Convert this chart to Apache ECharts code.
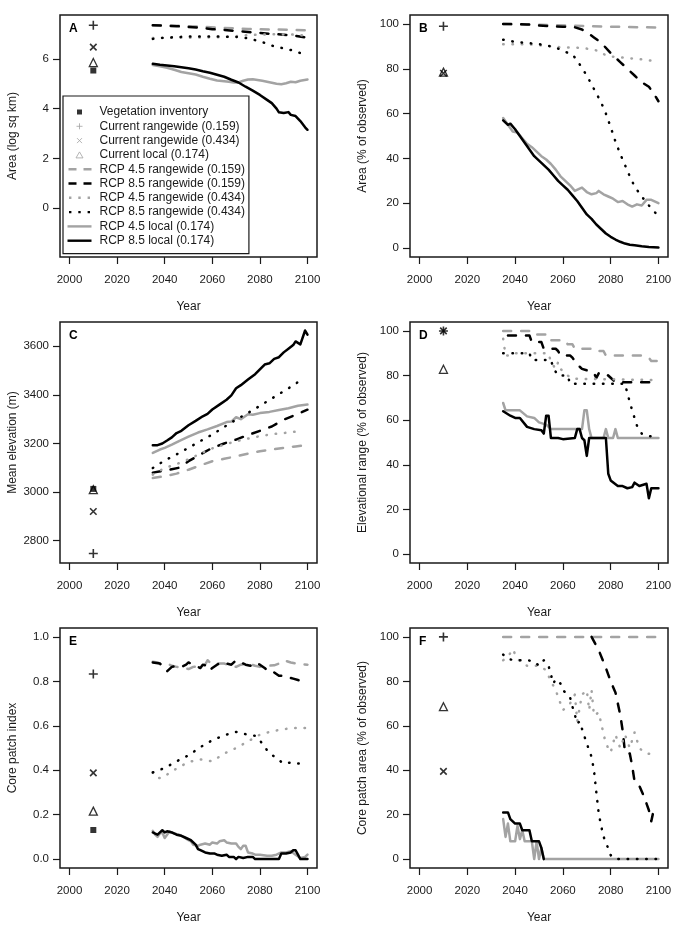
<!DOCTYPE html>
<html>
<head>
<meta charset="utf-8">
<script src="https://cdn.jsdelivr.net/npm/echarts@6/dist/echarts.min.js"></script>
<style>
html, body { margin: 0; padding: 0; background: #fff; }
#chart { width: 676px; height: 930px; }
</style>
</head>
<body>
<div id="chart"></div>
<script>
var NAMES = ['Vegetation inventory', 'Current rangewide (0.159)', 'Current rangewide (0.434)', 'Current local (0.174)',
    'RCP 4.5 rangewide (0.159)', 'RCP 8.5 rangewide (0.159)', 'RCP 4.5 rangewide (0.434)', 'RCP 8.5 rangewide (0.434)',
    'RCP 4.5 local (0.174)', 'RCP 8.5 local (0.174)'];
var OBS_YEAR = 2010;
var X_TICKS = [2000, 2020, 2040, 2060, 2080, 2100];

// ---- A: area (log sq km) ----
var A_OBS = [5.53, 7.35, 6.47, 5.85];   // veg, +, x, triangle
var A_45RW159 = [[2035,7.35],[2045,7.33],[2055,7.29],[2065,7.24],[2075,7.2],[2085,7.18],[2095,7.16],[2100,7.15]];
var A_85RW159 = [[2035,7.35],[2045,7.31],[2055,7.25],[2060,7.19],[2065,7.16],[2070,7.12],[2075,7.08],[2080,7.04],[2085,7.0],[2090,6.97],[2095,6.92],[2100,6.85]];
var A_45RW434 = [[2035,6.84],[2050,6.85],[2065,6.87],[2075,6.95],[2085,6.99],[2095,6.97],[2100,6.92]];
var A_85RW434 = [[2035,6.8],[2040,6.85],[2045,6.87],[2050,6.9],[2060,6.9],[2070,6.88],[2074,6.84],[2078,6.75],[2082,6.64],[2086,6.5],[2090,6.42],[2094,6.33],[2098,6.2],[2100,6.15]];
var A_45L = [[2035,5.75],[2038,5.7],[2041,5.64],[2044,5.56],[2047,5.47],[2050,5.42],[2053,5.37],[2056,5.28],[2059,5.2],[2062,5.13],[2065,5.1],[2067,5.08],[2069,5.05],[2071,5.05],[2073,5.12],[2075,5.17],[2077,5.18],[2079,5.15],[2081,5.12],[2083,5.08],[2085,5.04],[2087,5.0],[2089,4.98],[2091,5.02],[2093,5.08],[2095,5.06],[2097,5.12],[2100,5.17]];
var A_85L = [[2035,5.8],[2038,5.76],[2041,5.73],[2044,5.7],[2047,5.66],[2050,5.62],[2053,5.57],[2056,5.5],[2059,5.44],[2062,5.36],[2065,5.28],[2068,5.16],[2071,5.05],[2074,4.88],[2077,4.72],[2080,4.55],[2083,4.35],[2085,4.22],[2087,4.0],[2088,3.85],[2090,3.82],[2092,3.86],[2093,3.75],[2095,3.7],[2097,3.5],[2099,3.25],[2100,3.15]];

// ---- B: area (% of observed) ----
var B_OBS = [null, 99, 78, 78.5];
var B_45RW159 = [[2035,100],[2050,99.6],[2065,99.2],[2080,98.8],[2100,98.4]];
var B_85RW159 = [[2035,100],[2045,99.8],[2050,99.3],[2055,99],[2060,98.8],[2065,98.5],[2068,97.5],[2070,96.3],[2073,94],[2075,92.5],[2077,90.5],[2080,87],[2082,85],[2084,83],[2086,81],[2088,79],[2090,77],[2093,74],[2096,72],[2098,69],[2100,65.5]];
var B_45RW434 = [[2035,91],[2045,91],[2055,90],[2060,89.5],[2065,89.5],[2070,89],[2075,88],[2078,86],[2080,85.5],[2085,85],[2090,84.5],[2095,84],[2100,83]];
var B_85RW434 = [[2035,93],[2040,92],[2045,91.5],[2050,91],[2055,90],[2058,89],[2061,87.5],[2064,86.5],[2067,82],[2070,77],[2073,71],[2076,65],[2078,60],[2080,54],[2082,47.5],[2084,42],[2086,37],[2088,32],[2090,27.5],[2093,23],[2096,19],[2099,15.4]];
var B_45L = [[2035,58],[2037,55],[2039,52],[2041,51.5],[2043,49],[2045,46.5],[2047,45],[2049,43],[2051,41],[2053,39.5],[2055,37.5],[2057,35],[2059,32],[2061,30],[2063,28],[2065,25.5],[2067,26.5],[2068,27],[2070,25],[2072,24],[2074,24.5],[2075,25.5],[2077,24],[2079,23],[2081,22],[2083,20.5],[2085,21],[2087,19.5],[2089,18.5],[2091,19.5],[2093,19],[2095,21.5],[2097,21.5],[2100,20]];
var B_85L = [[2035,57],[2037,55],[2038,55.5],[2040,53],[2042,50],[2044,47],[2046,44],[2048,41],[2050,39],[2052,37],[2054,35],[2056,32.5],[2058,30],[2060,28],[2062,26],[2064,23.5],[2066,21],[2068,18],[2070,15],[2072,13],[2074,10.5],[2076,8.5],[2078,6.5],[2080,5],[2082,3.8],[2084,2.8],[2086,2],[2088,1.5],[2090,1.2],[2093,0.8],[2096,0.5],[2100,0.2]];

// ---- C: mean elevation (m) ----
var C_OBS = [3013, 2747, 2920, 3010];
var C_45RW159 = [[2035,3058],[2040,3065],[2045,3076],[2050,3092],[2055,3110],[2060,3127],[2065,3137],[2070,3147],[2075,3158],[2080,3168],[2085,3175],[2090,3182],[2095,3188],[2100,3193]];
var C_85RW159 = [[2035,3080],[2042,3092],[2046,3100],[2050,3127],[2055,3155],[2060,3182],[2065,3200],[2070,3216],[2075,3235],[2080,3252],[2085,3270],[2090,3298],[2095,3318],[2100,3339]];
var C_45RW434 = [[2035,3072],[2040,3099],[2045,3115],[2050,3135],[2055,3158],[2060,3180],[2065,3195],[2070,3209],[2075,3220],[2080,3230],[2085,3238],[2090,3243],[2098,3252]];
var C_85RW434 = [[2035,3099],[2040,3130],[2045,3155],[2050,3182],[2055,3210],[2060,3237],[2065,3268],[2070,3298],[2075,3326],[2080,3355],[2085,3385],[2090,3415],[2095,3445],[2098,3470]];
var C_45L = [[2035,3161],[2038,3175],[2040,3182],[2043,3195],[2046,3210],[2050,3228],[2054,3245],[2058,3258],[2062,3272],[2066,3288],[2068,3290],[2070,3308],[2072,3300],[2075,3320],[2077,3318],[2080,3325],[2084,3330],[2088,3338],[2092,3345],[2096,3355],[2100,3360]];
var C_85L = [[2035,3193],[2037,3193],[2039,3200],[2041,3212],[2043,3225],[2045,3243],[2047,3252],[2050,3275],[2053,3293],[2056,3312],[2058,3322],[2060,3340],[2063,3360],[2066,3380],[2068,3398],[2070,3427],[2072,3440],[2075,3463],[2078,3485],[2080,3505],[2082,3525],[2084,3530],[2086,3548],[2088,3555],[2090,3575],[2092,3590],[2094,3605],[2095,3620],[2097,3608],[2099,3665],[2100,3648]];

// ---- D: elevational range (% of observed) ----
var D_OBS = [null, 100, 100, 82.8];
var D_45RW159 = [[2035,100],[2047,100],[2048,98.4],[2054,98.4],[2055,95.8],[2061,95.8],[2062,94],[2064,94],[2065,92],[2074,92],[2075,91],[2077,91],[2078,89],[2094,89],[2096,88],[2097,86.5],[2100,86.5]];
var D_85RW159 = [[2037,98],[2046,98],[2047,95],[2051,95],[2052,92],[2057,92],[2058,91],[2059,89],[2063,89],[2064,88],[2066,85],[2068,83],[2071,82],[2073,81],[2074,79],[2075,81],[2078,81],[2080,79],[2082,77],[2097,77]];
var D_45RW434 = [[2035,96.5],[2036,89],[2038,89],[2040,90],[2054,90],[2055,86],[2057,83],[2058,86],[2059,83],[2062,80],[2064,78.6],[2098,78]];
var D_85RW434 = [[2035,90],[2046,90],[2047,87],[2055,87],[2056,83.4],[2058,80],[2062,80],[2063,76.3],[2086,76.3],[2087,72],[2089,64.4],[2091,57.6],[2093,54],[2095,53],[2100,52.5]];
var D_45L = [[2035,67.7],[2036,64.4],[2042,64.4],[2045,61.7],[2048,61],[2050,59],[2053,58],[2055,56],[2068,56],[2069,64.4],[2070,64.4],[2071,56],[2072,52],[2077,52],[2078,56],[2079,52],[2081,52],[2082,56],[2083,52],[2100,52]];
var D_85L = [[2035,64],[2038,62],[2040,61],[2042,61],[2045,57],[2048,56],[2051,55.5],[2052,54],[2053,62],[2054,62],[2055,52],[2058,52],[2060,51.5],[2065,52],[2066,56],[2067,56],[2068,52],[2069,51],[2070,44],[2071,52],[2078,52],[2079,36],[2080,33],[2083,30.5],[2085,30.5],[2087,29.5],[2089,30],[2090,32],[2092,30.5],[2095,31.5],[2096,25],[2097,29.5],[2100,29.5]];

// ---- E: core patch index ----
var E_OBS = [0.131, 0.833, 0.388, 0.216];
var E_45RW159 = [[2035,0.888],[2037,0.885],[2039,0.875],[2041,0.88],[2043,0.87],[2045,0.865],[2048,0.86],[2050,0.855],[2052,0.865],[2055,0.87],[2057,0.875],[2058,0.895],[2060,0.875],[2062,0.88],[2065,0.88],[2068,0.87],[2070,0.865],[2072,0.875],[2075,0.88],[2078,0.87],[2080,0.865],[2083,0.87],[2086,0.872],[2088,0.88],[2090,0.895],[2093,0.885],[2096,0.878],[2100,0.875]];
var E_85RW159 = [[2035,0.885],[2038,0.88],[2040,0.855],[2041,0.845],[2043,0.865],[2045,0.87],[2047,0.865],[2049,0.875],[2050,0.885],[2052,0.875],[2054,0.865],[2055,0.86],[2056,0.875],[2058,0.87],[2059,0.85],[2060,0.86],[2062,0.875],[2064,0.885],[2066,0.88],[2068,0.875],[2070,0.895],[2072,0.885],[2074,0.875],[2076,0.87],[2078,0.885],[2080,0.875],[2082,0.86],[2084,0.84],[2086,0.84],[2088,0.825],[2090,0.825],[2092,0.818],[2094,0.812],[2096,0.806],[2098,0.8],[2100,0.79]];
var E_45RW434 = [[2035,0.39],[2037,0.363],[2040,0.37],[2042,0.39],[2045,0.407],[2050,0.437],[2055,0.449],[2060,0.44],[2065,0.475],[2070,0.5],[2075,0.53],[2080,0.56],[2085,0.575],[2090,0.585],[2095,0.59],[2100,0.59]];
var E_85RW434 = [[2035,0.39],[2040,0.41],[2045,0.44],[2050,0.467],[2055,0.504],[2060,0.535],[2065,0.557],[2070,0.572],[2075,0.56],[2078,0.555],[2080,0.534],[2083,0.49],[2085,0.47],[2088,0.445],[2090,0.43],[2093,0.435],[2095,0.43],[2100,0.43]];
var E_45L = [[2035,0.127],[2036,0.11],[2037,0.1],[2038,0.115],[2039,0.12],[2040,0.095],[2041,0.11],[2042,0.125],[2044,0.115],[2046,0.11],[2048,0.1],[2050,0.085],[2051,0.08],[2052,0.065],[2054,0.06],[2055,0.065],[2057,0.07],[2059,0.065],[2060,0.075],[2062,0.07],[2063,0.08],[2065,0.085],[2066,0.075],[2068,0.07],[2070,0.07],[2071,0.055],[2072,0.045],[2073,0.06],[2074,0.06],[2075,0.03],[2077,0.025],[2078,0.02],[2080,0.02],[2083,0.015],[2085,0.015],[2087,0.02],[2089,0.03],[2091,0.03],[2093,0.035],[2095,0.02],[2097,0.005],[2099,0.01],[2100,0.02]];
var E_85L = [[2035,0.12],[2036,0.115],[2037,0.11],[2038,0.12],[2039,0.13],[2040,0.12],[2041,0.125],[2043,0.12],[2045,0.11],[2047,0.105],[2049,0.095],[2051,0.085],[2053,0.065],[2054,0.045],[2055,0.04],[2057,0.03],[2059,0.025],[2061,0.025],[2062,0.02],[2064,0.015],[2066,0.02],[2067,0.01],[2069,0.01],[2070,0.0],[2071,0.01],[2073,0.005],[2075,0.01],[2077,0.01],[2078,0.0],[2088,0.0],[2089,0.025],[2091,0.025],[2093,0.03],[2094,0.04],[2095,0.04],[2096,0.02],[2097,0.0],[2100,0.0]];

// ---- F: core patch area (% of observed) ----
var F_OBS = [null, 100, 39.5, 68.6];
var F_45RW159 = [[2035,100],[2050,100],[2070,100],[2085,100],[2100,100]];
var F_85RW159 = [[2072,100],[2075,94],[2078,86],[2080,80],[2082,75],[2084,65],[2085,58],[2086,48],[2088,47.5],[2089,42],[2090,35],[2092,33],[2094,28],[2096,22],[2097,17],[2098,22],[2099,20]];
var F_45RW434 = [[2035,89.5],[2037,91],[2039,94.5],[2041,90],[2045,87],[2050,87],[2053,85],[2055,80],[2057,76],[2060,67],[2063,70],[2065,74],[2066,62],[2068,74],[2070,76],[2071,67],[2072,76],[2073,64.6],[2075,66],[2077,56.4],[2078,52],[2080,48],[2082,56],[2084,50],[2086,56],[2088,50],[2090,57],[2092,50],[2094,48],[2096,47.4],[2098,47]];
var F_85RW434 = [[2035,92],[2037,90],[2040,89.5],[2045,89.5],[2048,89],[2050,87],[2052,89.5],[2054,87],[2055,83],[2056,79],[2057,81],[2059,79],[2060,76],[2062,74],[2063,72.8],[2064,68.6],[2065,65],[2066,61],[2067,62],[2068,58.6],[2070,52],[2072,46],[2073,40],[2074,30],[2075,20.5],[2076,15],[2077,10.3],[2078,7],[2079,5],[2080,1.8],[2081,0.5],[2083,0],[2100,0]];
var F_45L = [[2035,18],[2036,10],[2037,16],[2038,8],[2040,8],[2041,15],[2042,9],[2043,13],[2044,8],[2047,8],[2048,0],[2049,8],[2050,0],[2051,5],[2052,0],[2100,0]];
var F_85L = [[2035,21],[2037,21],[2038,18],[2040,16],[2042,16],[2043,13],[2046,13],[2047,8],[2050,8],[2051,5],[2052,0]];

var GRAY = '#a3a3a3';
var INK = '#1a1a1a';
var FONT = 'Liberation Sans';
var PLUS = 'path://M0,5L10,5M5,0L5,10';
var CROSS = 'path://M0,0L10,10M10,0L0,10';
// legend icons padded to the 24x6 icon box so they are not stretched
var L_SQUARE = 'path://M0,0M24,6M9.5,0.5L14.5,0.5L14.5,5.5L9.5,5.5Z';
var L_PLUS = 'path://M0,0M24,6M9,3L15,3M12,0L12,6';
var L_CROSS = 'path://M0,0M24,6M9.5,0.5L14.5,5.5M14.5,0.5L9.5,5.5';
var L_TRI = 'path://M0,0M24,6M12,0L15.5,6L8.5,6Z';
var L_SOLID = 'path://M0,0M24,6M0,1.8L24,1.8L24,4.2L0,4.2Z';
var L_DASH = 'path://M0,0M24,6M1,1.8L9,1.8L9,4.2L1,4.2ZM16,1.8L24,1.8L24,4.2L16,4.2Z';
var L_DOT = 'path://M0,0M24,6M1.5,1.8L3.9,1.8L3.9,4.2L1.5,4.2ZM10.8,1.8L13.2,1.8L13.2,4.2L10.8,4.2ZM20.1,1.8L22.5,1.8L22.5,4.2L20.1,4.2Z';

// per-series line look: 45RW159, 85RW159, 45RW434, 85RW434, 45L, 85L
var LINE_LOOK = [
    {color: GRAY, type: [8, 10], icon: L_DASH},
    {color: '#000', type: [8, 10], icon: L_DASH},
    {color: GRAY, type: [0.5, 8.8], icon: L_DOT},
    {color: '#000', type: [0.5, 8.8], icon: L_DOT},
    {color: GRAY, type: 'solid', icon: L_SOLID},
    {color: '#000', type: 'solid', icon: L_SOLID}
];
// draw order: locals first, rangewide on top
var DRAW_ORDER = [4, 5, 0, 1, 2, 3];

var panels = [
    {letter: 'A', left: 60, top: 15, width: 257, height: 242, ymin: -1.96, ymax: 7.76, yticks: [0, 2, 4, 6],
     yname: 'Area (log sq km)', obs: A_OBS, lines: [A_45RW159, A_85RW159, A_45RW434, A_85RW434, A_45L, A_85L]},
    {letter: 'B', left: 410, top: 15, width: 258, height: 242, ymin: -4, ymax: 104, yticks: [0, 20, 40, 60, 80, 100],
     yname: 'Area (% of observed)', obs: B_OBS, lines: [B_45RW159, B_85RW159, B_45RW434, B_85RW434, B_45L, B_85L]},
    {letter: 'C', left: 60, top: 322, width: 257, height: 241, ymin: 2708, ymax: 3700, yticks: [2800, 3000, 3200, 3400, 3600],
     yname: 'Mean elevation (m)', obs: C_OBS, lines: [C_45RW159, C_85RW159, C_45RW434, C_85RW434, C_45L, C_85L]},
    {letter: 'D', left: 410, top: 322, width: 258, height: 241, ymin: -4, ymax: 104, yticks: [0, 20, 40, 60, 80, 100],
     yname: 'Elevational range (% of observed)', obs: D_OBS, lines: [D_45RW159, D_85RW159, D_45RW434, D_85RW434, D_45L, D_85L]},
    {letter: 'E', left: 60, top: 628, width: 257, height: 240, ymin: -0.04, ymax: 1.04, yticks: [0, 0.2, 0.4, 0.6, 0.8, 1.0],
     yname: 'Core patch index', obs: E_OBS, lines: [E_45RW159, E_85RW159, E_45RW434, E_85RW434, E_45L, E_85L], fixed: 1},
    {letter: 'F', left: 410, top: 628, width: 258, height: 240, ymin: -4, ymax: 104, yticks: [0, 20, 40, 60, 80, 100],
     yname: 'Core patch area (% of observed)', obs: F_OBS, lines: [F_45RW159, F_85RW159, F_45RW434, F_85RW434, F_45L, F_85L]}
];

var OBS_SYMBOLS = [
    {symbol: 'rect', size: 6, style: {color: '#000', borderWidth: 0}},
    {symbol: PLUS, size: 9, style: {color: 'none', borderColor: '#000', borderWidth: 1.6}},
    {symbol: CROSS, size: 6.5, style: {color: 'none', borderColor: '#000', borderWidth: 1.6}},
    {symbol: 'triangle', size: 8, style: {color: 'none', borderColor: '#000', borderWidth: 1.3}}
];

var grids = [], xAxes = [], yAxes = [], series = [], graphics = [];

panels.forEach(function (p, i) {
    grids.push({
        left: p.left, top: p.top, width: p.width, height: p.height,
        show: true, borderColor: INK, borderWidth: 1.5, backgroundColor: 'transparent',
        containLabel: false, outerBoundsMode: 'none'
    });
    xAxes.push({
        gridIndex: i, type: 'value', min: 1996, max: 2104, position: 'bottom',
        name: 'Year', nameLocation: 'middle', nameGap: 44,
        nameTextStyle: {fontFamily: FONT, fontSize: 12, color: INK},
        axisLine: {show: false, onZero: false},
        axisTick: {show: true, inside: false, length: 7, customValues: X_TICKS, lineStyle: {color: INK, width: 1.2}},
        axisLabel: {customValues: X_TICKS, margin: 17, fontFamily: FONT, fontSize: 11.5, color: INK,
            formatter: function (v) { return String(v); }},
        splitLine: {show: false}
    });
    yAxes.push({
        gridIndex: i, type: 'value', min: p.ymin, max: p.ymax, position: 'left',
        name: p.yname, nameLocation: 'middle', nameGap: 41,
        nameTextStyle: {fontFamily: FONT, fontSize: 12, color: INK},
        axisLine: {show: false, onZero: false},
        axisTick: {show: true, inside: false, length: 7, customValues: p.yticks, lineStyle: {color: INK, width: 1.2}},
        axisLabel: {
            customValues: p.yticks, margin: 11, fontFamily: FONT, fontSize: 11.5, color: INK,
            formatter: function (v) { return p.fixed ? v.toFixed(p.fixed) : String(v); }
        },
        splitLine: {show: false}
    });
    DRAW_ORDER.forEach(function (k) {
        series.push({
            name: NAMES[4 + k], type: 'line', xAxisIndex: i, yAxisIndex: i,
            data: p.lines[k], symbol: 'none', smooth: false, silent: true,
            lineStyle: {color: LINE_LOOK[k].color, width: 2.5, type: LINE_LOOK[k].type, cap: 'round', join: 'round'},
            itemStyle: {color: LINE_LOOK[k].color}
        });
    });
    p.obs.forEach(function (v, k) {
        if (v === null) return;
        series.push({
            name: NAMES[k], type: 'scatter', xAxisIndex: i, yAxisIndex: i,
            data: [[OBS_YEAR, v]], symbol: OBS_SYMBOLS[k].symbol, symbolSize: OBS_SYMBOLS[k].size,
            itemStyle: OBS_SYMBOLS[k].style, silent: true, z: 5
        });
    });
    graphics.push({
        type: 'text', left: p.left + 9, top: p.top + 8,
        style: {text: p.letter, font: 'bold 12px ' + FONT, fill: '#000'}
    });
});

var legendData = [
    {name: NAMES[0], icon: L_SQUARE, itemStyle: {color: '#000', borderWidth: 0}},
    {name: NAMES[1], icon: L_PLUS, itemStyle: {color: 'none', borderColor: GRAY, borderWidth: 1}},
    {name: NAMES[2], icon: L_CROSS, itemStyle: {color: 'none', borderColor: GRAY, borderWidth: 1}},
    {name: NAMES[3], icon: L_TRI, itemStyle: {color: 'none', borderColor: GRAY, borderWidth: 1}}
];
LINE_LOOK.forEach(function (look, k) {
    legendData.push({name: NAMES[4 + k], icon: look.icon, itemStyle: {color: look.color, borderWidth: 0}});
});

var option = {
    animation: false,
    backgroundColor: '#fff',
    textStyle: {fontFamily: FONT},
    grid: grids,
    xAxis: xAxes,
    yAxis: yAxes,
    legend: {
        orient: 'vertical', left: 63, top: 96, padding: [9, 4, 6, 2],
        itemWidth: 24, itemHeight: 6, itemGap: 0.3, selectedMode: false,
        backgroundColor: '#fff', borderColor: INK, borderWidth: 1.2,
        textStyle: {fontFamily: FONT, fontSize: 12, color: INK, lineHeight: 14, padding: [0, 0, 0, 3]},
        data: legendData
    },
    graphic: graphics,
    series: series
};

var myChart = echarts.init(document.getElementById('chart'), null, {renderer: 'canvas'});
myChart.setOption(option);
</script>
</body>
</html>
